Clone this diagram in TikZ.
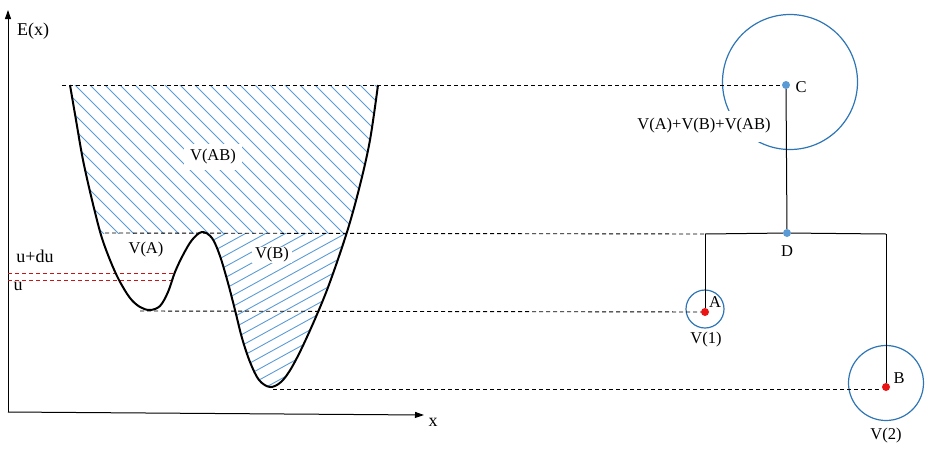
\documentclass[tikz,border=0pt]{standalone}
\usepackage{fontspec}
\setmainfont{Liberation Serif}
\usetikzlibrary{arrows.meta}
\definecolor{hatchblue}{RGB}{91,155,213}
\definecolor{circblue}{RGB}{46,117,182}
\definecolor{dotblue}{RGB}{91,155,213}
\definecolor{dotred}{RGB}{235,20,20}
\definecolor{dashred}{RGB}{200,20,20}
\begin{document}
\begin{tikzpicture}[x=1pt,y=-1pt,
  lbl/.style={font=\fontsize{16.5}{19}\selectfont, inner sep=1pt},
  biglbl/.style={font=\fontsize{18}{21}\selectfont, inner sep=1pt},
  whitelbl/.style={lbl, fill=white, inner xsep=6pt, minimum height=26pt},
  axis/.style={line width=1pt, -{Triangle[length=9pt,width=6pt]}},
  level/.style={line width=0.9pt, dash pattern=on 4pt off 3pt},
  redlevel/.style={line width=0.9pt, dashred, dash pattern=on 4pt off 3pt},
  hatch/.style={hatchblue, line width=0.9pt},
  ring/.style={circblue, line width=1.2pt, fill=none},
  bluedot/.style={circle, fill=dotblue, inner sep=0pt, minimum size=8pt},
  reddot/.style={circle, fill=dotred, inner sep=0pt, minimum size=8pt},
  tree/.style={line width=1pt},
  wellcurve/.style={insert path={plot[smooth, tension=0.55] coordinates {
    (70,85) (76,120) (83,160) (92,200) (101,235) (110,260) (119,280) (130,298)
    (140,307) (150,310) (160,306) (168,292) (175,272) (183,255) (192,240)
    (202,232) (212,238) (220,256) (228,283) (235,310) (242,338) (250,362)
    (259,380) (270,387) (281,382) (292,367) (307,337) (327,290) (347,232)
    (360,185) (370,140) (378,85)}}}
]
\useasboundingbox (0,0) rectangle (927,448);

% hatching V(AB)
\begin{scope}
  \clip (50,85) rectangle (400,233);
  \clip [wellcurve] -- cycle;
  \foreach \a in {-240,-225,...,420} {
    \draw[hatch] (\a,70) -- ++(190,190);
  }
\end{scope}
% hatching V(B)
\begin{scope}
  \clip (202,233) rectangle (400,400);
  \clip [wellcurve] -- cycle;
  \foreach \c in {220,231,...,520} {
    \draw[hatch] (190,\c) -- ++(220,-121);
  }
\end{scope}

% axes
\coordinate (O) at (8,412);
\coordinate (Ytip) at (8,10);
\coordinate (Xtip) at (424,415);
\draw[axis] (O) -- (Ytip);
\draw[axis] (O) -- (Xtip);
\node[biglbl] (Ex) at (33,31) {E(x)};
\node[biglbl] (xl) at (433,422) {x};

% red levels
\coordinate (r1a) at (8,273);
\coordinate (r1b) at (174,273);
\coordinate (r2a) at (8,280);
\coordinate (r2b) at (172,280);
\draw[redlevel] (r1a) -- (r1b);
\draw[redlevel] (r2a) -- (r2b);
\node[biglbl] (udu) at (35,256) {u+du};
\node[biglbl] (u) at (18,286) {u};

% right side circles
\draw[ring] (790,82) circle (67.5);
\draw[ring] (705,309) circle (19);
\draw[ring] (886,383) circle (37.5);
\node[lbl, fill=white, inner xsep=2pt, minimum height=31pt] (sum) at (704,126) {V(A)+V(B)+V(AB)};

% points
\node[bluedot] (C) at (786,85) {};
\node[bluedot] (D) at (787,233) {};
\node[reddot] (A) at (705,312) {};
\node[reddot] (B) at (886,387) {};
\coordinate (DL) at (705,234);
\coordinate (DR) at (886,234);

% level lines
\coordinate (l1) at (62,85);
\coordinate (l2) at (105,233);
\coordinate (l3) at (140,311);
\coordinate (l4) at (273,389);
\draw[level] (l1) -- (C);
\draw[level] (l2) -- (DL);
\draw[level] (l3) -- (A);
\draw[level] (l4) -- (B.west |- l4);

% tree
\draw[tree] (C) -- (D);
\draw[tree] (DL) -- (D) -- (DR);
\draw[tree] (DL) -- (A);
\draw[tree] (DR) -- (B);

% curve
\draw[line width=2pt, line join=round] [wellcurve];

% labels
\node[whitelbl] (VAB) at (213,157) {V(AB)};
\node[lbl, fill=white, inner xsep=3pt] (VB) at (272,255) {V(B)};
\node[lbl] (VA) at (146,250) {V(A)};
\node[lbl] (Cl) at (801,87) {C};
\node[lbl] (Dl) at (787,251) {D};
\node[lbl] (Al) at (715,302) {A};
\node[lbl] (Bl) at (899,378) {B};
\node[lbl] (V1) at (706,340) {V(1)};
\node[lbl] (V2) at (886,436) {V(2)};
\end{tikzpicture}
\end{document}
